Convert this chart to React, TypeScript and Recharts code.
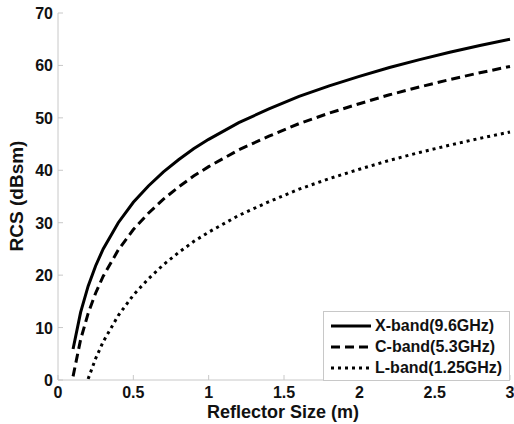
import React from 'react';
import { LineChart, Line, XAxis, YAxis, Legend } from 'recharts';

const sizes = [0.1, 0.15, 0.2, 0.25, 0.3, 0.4, 0.5, 0.6, 0.7, 0.8, 0.9, 1.0, 1.2, 1.4, 1.6, 1.8, 2.0, 2.2, 2.4, 2.6, 2.8, 3.0];
const xBand = [5.9, 12.9, 17.9, 21.8, 25.0, 30.0, 33.9, 37.0, 39.7, 42.0, 44.1, 45.9, 49.1, 51.7, 54.1, 56.1, 57.9, 59.6, 61.1, 62.5, 63.8, 65.0];
const cBand = [0.7, 7.7, 12.7, 16.6, 19.8, 24.8, 28.7, 31.8, 34.5, 36.8, 38.9, 40.7, 43.9, 46.5, 48.9, 50.9, 52.7, 54.4, 55.9, 57.3, 58.6, 59.8];
const lBand = [null, null, 0.2, 4.1, 7.3, 12.3, 16.2, 19.3, 22.0, 24.3, 26.4, 28.2, 31.4, 34.0, 36.4, 38.4, 40.2, 41.9, 43.4, 44.8, 46.1, 47.3];

const xTicks = [0, 0.5, 1, 1.5, 2, 2.5, 3];
const yTicks = [0, 10, 20, 30, 40, 50, 60, 70];

const seriesInfo = [
  { key: 'x', name: 'X-band(9.6GHz)', dash: undefined },
  { key: 'c', name: 'C-band(5.3GHz)', dash: '9 5' },
  { key: 'l', name: 'L-band(1.25GHz)', dash: '3 4' },
];

const data = sizes.map((s, i) => ({ size: s, x: xBand[i], c: cBand[i], l: lBand[i] }));

const FONT = '"Liberation Sans", Arial, sans-serif';
const FRAME = '#c8c8c8';

const BottomTick = (props: any) => {
  const { x, y, payload } = props;
  return (
    <g>
      <line x1={x} y1={y} x2={x} y2={y - 5} stroke={FRAME} />
      <text x={x} y={y + 18} textAnchor="middle" fontFamily={FONT} fontWeight="bold" fontSize={16} fill="#111">
        {payload.value}
      </text>
    </g>
  );
};

const TopTick = (props: any) => {
  const { x, y } = props;
  return <line x1={x} y1={y} x2={x} y2={y + 5} stroke={FRAME} />;
};

const LeftTick = (props: any) => {
  const { x, y, payload } = props;
  return (
    <g>
      <line x1={x} y1={y} x2={x + 5} y2={y} stroke={FRAME} />
      <text x={x - 5} y={y + 6} textAnchor="end" fontFamily={FONT} fontWeight="bold" fontSize={16} fill="#111">
        {payload.value}
      </text>
    </g>
  );
};

const RightTick = (props: any) => {
  const { x, y } = props;
  return <line x1={x} y1={y} x2={x - 5} y2={y} stroke={FRAME} />;
};

const LegendBox = () => (
  <div
    style={{
      boxSizing: 'border-box',
      width: 187,
      border: `1px solid ${FRAME}`,
      background: '#fff',
      padding: '3px 2px 2px 6px',
      fontFamily: FONT,
      fontWeight: 'bold',
      fontSize: 16,
      color: '#111',
      textAlign: 'left',
      whiteSpace: 'nowrap',
    }}
  >
    {seriesInfo.map((s) => (
      <div key={s.key} style={{ display: 'flex', alignItems: 'center', height: 21 }}>
        <svg width={42} height={10} style={{ marginRight: 3, flexShrink: 0 }}>
          <line x1={1} y1={5} x2={41} y2={5} stroke="#000" strokeWidth={3} strokeDasharray={s.dash} />
        </svg>
        <span>{s.name}</span>
      </div>
    ))}
  </div>
);

export default function App() {
  return (
    <div style={{ position: 'absolute', left: 0, top: 0, width: 514, height: 424, background: '#fff' }}>
      <LineChart width={514} height={424} data={data} margin={{ top: 13, right: 4, bottom: 14, left: 20 }}>
        <XAxis
          dataKey="size"
          type="number"
          domain={[0, 3]}
          ticks={xTicks}
          tickSize={0}
          tickMargin={0}
          tick={<BottomTick />}
          stroke={FRAME}
          height={30}
        />
        <XAxis
          xAxisId="top"
          orientation="top"
          dataKey="size"
          type="number"
          domain={[0, 3]}
          ticks={xTicks}
          tickSize={0}
          tickMargin={0}
          tick={<TopTick />}
          stroke={FRAME}
          height={0}
        />
        <YAxis
          type="number"
          domain={[0, 70]}
          ticks={yTicks}
          tickSize={0}
          tickMargin={0}
          tick={<LeftTick />}
          stroke={FRAME}
          width={38}
        />
        <YAxis
          yAxisId="right"
          orientation="right"
          type="number"
          domain={[0, 70]}
          ticks={yTicks}
          tickSize={0}
          tickMargin={0}
          tick={<RightTick />}
          stroke={FRAME}
          width={0}
        />
        {seriesInfo.map((s) => (
          <Line
            key={s.key}
            dataKey={s.key}
            name={s.name}
            stroke="#000"
            strokeWidth={3}
            strokeDasharray={s.dash}
            dot={false}
            activeDot={false}
            isAnimationActive={false}
            type="linear"
          />
        ))}
        <Legend
          layout="horizontal"
          align="center"
          verticalAlign="middle"
          content={<LegendBox />}
          wrapperStyle={{ left: 323, top: 311, width: 187, bottom: 'auto', right: 'auto' }}
        />
        <text
          x={283}
          y={418}
          textAnchor="middle"
          fontFamily={FONT}
          fontWeight="bold"
          fontSize={18}
          fill="#111"
        >
          Reflector Size (m)
        </text>
        <text
          x={23}
          y={196}
          transform="rotate(-90 23 196)"
          textAnchor="middle"
          fontFamily={FONT}
          fontWeight="bold"
          fontSize={19}
          fill="#111"
        >
          RCS (dBsm)
        </text>
      </LineChart>
    </div>
  );
}
